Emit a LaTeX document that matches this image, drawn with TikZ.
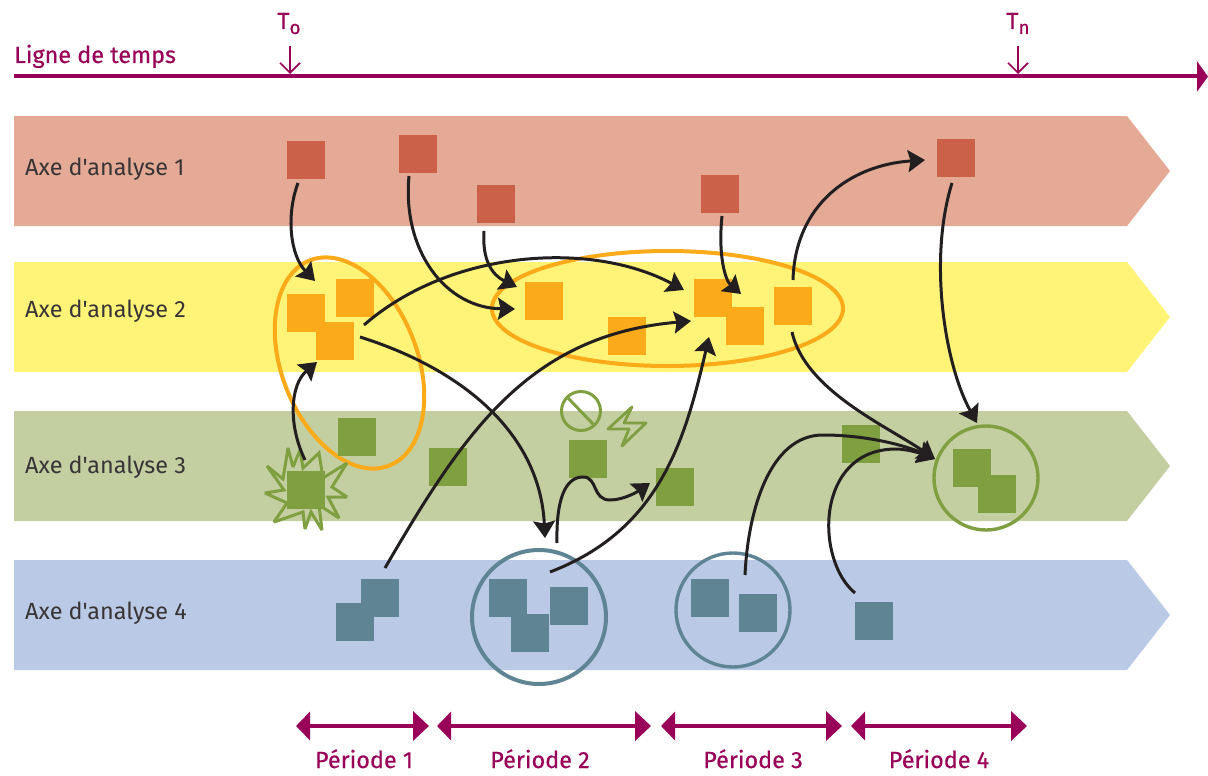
\documentclass[tikz,border=0pt]{standalone}
\usepackage{fontspec}
\setmainfont{Fira Sans}[Ligatures=TeXOff]
\newfontfamily\purfont{Fira Sans}[Ligatures=TeXOff,FakeBold=0.35]
\usetikzlibrary{arrows.meta}
\definecolor{pur}{HTML}{990057}
\definecolor{bandR}{HTML}{E4AA95}\definecolor{sqR}{HTML}{CB6149}
\definecolor{bandO}{HTML}{FFF477}\definecolor{sqO}{HTML}{FBAA19}
\definecolor{bandG}{HTML}{C3CEA1}\definecolor{sqG}{HTML}{7F9F40}
\definecolor{bandB}{HTML}{BAC9E6}\definecolor{sqB}{HTML}{5F8595}
\definecolor{ink}{HTML}{231F20}
\tikzset{
 x=1pt,y=-1pt,
 sq/.style={minimum size=38pt,inner sep=0,outer sep=0,fill=#1},
 bandlabel/.style={anchor=base west,inner sep=0,font=\fontsize{23.4}{25}\selectfont,text=ink!90},
 purlabel/.style={inner sep=0,font=\purfont\fontsize{23.4}{25}\selectfont,text=pur},
 conn/.style={draw=ink,line width=3pt,-{Stealth[length=17pt,width=22pt,inset=2.5pt]}},
 grp/.style={draw=#1,line width=4pt,fill=none},
 period/.style={draw=pur,line width=4pt,{Triangle[length=14pt,width=28pt]}-{Triangle[length=16pt,width=29pt]}},
 tick/.style={draw=pur,line width=1.6pt,-{Straight Barb[length=10pt,width=20pt]}},
}
\newcommand{\band}[4]{\fill[#1] (14,#2) -- (1127,#2) -- (1170,#2+55) -- (1127,#2+110) -- (14,#2+110) -- cycle;
 \node[bandlabel] (#3) at (25,#4) {Axe d'analyse #3};}
\begin{document}
\begin{tikzpicture}
\useasboundingbox (0,0) rectangle (1208,776);
% bands
\band{bandR}{116}{1}{175.5}
\band{bandO}{262}{2}{317.5}
\band{bandG}{411}{3}{473.5}
\band{bandB}{560}{4}{619.5}
% timeline
\coordinate (tl0) at (14,76.5); \coordinate (tl1) at (1208,76.5);
\draw[pur,line width=4pt,-{Triangle[length=11pt,width=30pt]}] (tl0) -- (tl1);
\node[purlabel,anchor=base west] (lt) at (14,63) {Ligne de temps};
\node[purlabel,anchor=base] (t0) at (289,29) {T\raisebox{-5pt}{\fontsize{19}{19}\selectfont o}};
\node[purlabel,anchor=base] (tn) at (1018,29) {T\raisebox{-5pt}{\fontsize{19}{19}\selectfont n}};
\coordinate (t0a) at (290,46); \coordinate (t0b) at (290,74);
\coordinate (tna) at (1018,46); \coordinate (tnb) at (1018,74);
\draw[tick] (t0a) -- (t0b);
\draw[tick] (tna) -- (tnb);
% groups
\draw[grp=sqO,rotate around={21:(349.5,363)}] (349.5,363) ellipse [x radius=68,y radius=110];
\draw[grp=sqO] (667.5,308.5) ellipse [x radius=175.5,y radius=57.5];
\node[draw=sqB,line width=4pt,circle,minimum size=134pt,inner sep=0,outer sep=0] (cb1) at (539,617) {};
\node[draw=sqB,line width=3.4pt,circle,minimum size=114pt,inner sep=0,outer sep=0] (cb2) at (733,610) {};
\node[draw=sqG,line width=3.4pt,circle,minimum size=104pt,inner sep=0,outer sep=0] (cg) at (986,478) {};
% star
\draw[sqG,line width=3pt,line join=miter,miter limit=3] (288,448)--(293,467)--(300,450)--(303,468)--(319,453)--(323,478)--(347,463)--(332,487)--(347,497)--(328,497)--(339,518)--(319,505)--(322,530)--(311,512)--(305,529)--(303,512)--(274,522)--(287,503)--(265,493)--(284,490)--(267,466)--(283,479)--cycle;
% forbidden + bolt
\draw[sqG,line width=3pt] (581,411) circle [radius=19.5];
\draw[sqG,line width=3pt] (568,398) -- (594,425);
\draw[sqG,line width=2.8pt,line join=round] (632,407)--(624,423)--(646,423)--(622,446)--(629,429)--(608,429)--cycle;
% squares
\foreach \n/\x/\y in {r1/306/160,r2/418/154,r3/496/204,r4/720/194,r5/956/158}{\node[sq=sqR] (\n) at (\x,\y) {};}
\foreach \n/\x/\y in {o1/306/313,o2/355/298,o3/335/341,o4/544/301,o5/627/336,o6/713/298,o7/745/326,o8/793/306}{\node[sq=sqO] (\n) at (\x,\y) {};}
\foreach \n/\x/\y in {g1/357/437,g2/306/490,g3/448/467,g4/588/459,g5/675/487,g6/861/444,g7/972/468,g8/997/494}{\node[sq=sqG] (\n) at (\x,\y) {};}
\foreach \n/\x/\y in {b1/380/598,b2/355/622,b3/508/598,b4/569/606,b5/530/633,b6/710/598,b7/758/613,b8/874/621}{\node[sq=sqB] (\n) at (\x,\y) {};}
% connectors
\draw[conn] ([shift={(-8,23)}]r1.center) .. controls (286,215) and (290,255) .. ([shift={(9,-32)}]o1.center);
\draw[conn] ([shift={(-9,22)}]r2.center) .. controls (402,250) and (445,308) .. ([shift={(-29,8)}]o4.center);
\draw[conn] ([shift={(-12,27)}]r3.center) .. controls (482,260) and (492,275) .. ([shift={(-27,-14)}]o4.center);
\draw[conn] ([shift={(2,22)}]r4.center) .. controls (718,255) and (725,280) .. ([shift={(28,-4)}]o6.center);
\draw[conn] ([shift={(0,-26)}]o8.center) .. controls (795,205) and (850,165) .. ([shift={(-31,2)}]r5.center);
\draw[conn] ([shift={(-4,25)}]r5.center) .. controls (928,260) and (945,365) .. ([shift={(-9,-55)}]cg.center);
\draw[conn] ([shift={(29,-16)}]o3.center) .. controls (450,250) and (590,240) .. ([shift={(-29,-8)}]o6.center);
\draw[conn] ([shift={(25,-4)}]o3.center) .. controls (465,370) and (540,435) .. ([shift={(6,-79)}]cb1.center);
\draw[conn] ([shift={(-1,-30)}]g2.center) .. controls (288,425) and (290,385) .. ([shift={(-18,21)}]o3.center);
\draw[conn] ([shift={(5,-30)}]b1.center) .. controls (465,430) and (530,335) .. ([shift={(-22,23)}]o6.center);
\draw[conn] ([shift={(11,-45)}]cb1.center) .. controls (660,530) and (685,440) .. ([shift={(-4,39)}]o6.center);
\draw[conn] ([shift={(18,-74)}]cb1.center) .. controls (556,500) and (565,477) .. (583,477) .. controls (598,477) and (592,500) .. (610,500) .. controls (625,500) and (640,490) .. ([shift={(-25,-4)}]g5.center);
\draw[conn] ([shift={(12,-35)}]cb2.center) .. controls (748,510) and (770,435) .. (823,435) .. controls (865,435) and (905,445) .. ([shift={(-51,-19)}]cg.center);
\draw[conn] ([shift={(-19,-28)}]b8.center) .. controls (815,560) and (815,450) .. (895,449) .. controls (910,449) and (925,455) .. ([shift={(-51,-19)}]cg.center);
\draw[conn] ([shift={(-1,26)}]o8.center) .. controls (805,390) and (885,425) .. ([shift={(-51,-19)}]cg.center);
% periods
\foreach \n/\a/\b/\c/\t in {1/296/429/364/Période 1,2/437/651/540/Période 2,3/661/842/753/Période 3,4/851/1027/939/Période 4}{
 \coordinate (pa\n) at (\a,726); \coordinate (pb\n) at (\b,726);
 \draw[period] (pa\n) -- (pb\n);
 \node[purlabel,anchor=base] (pl\n) at (\c,768) {\t};
}
\end{tikzpicture}
\end{document}
